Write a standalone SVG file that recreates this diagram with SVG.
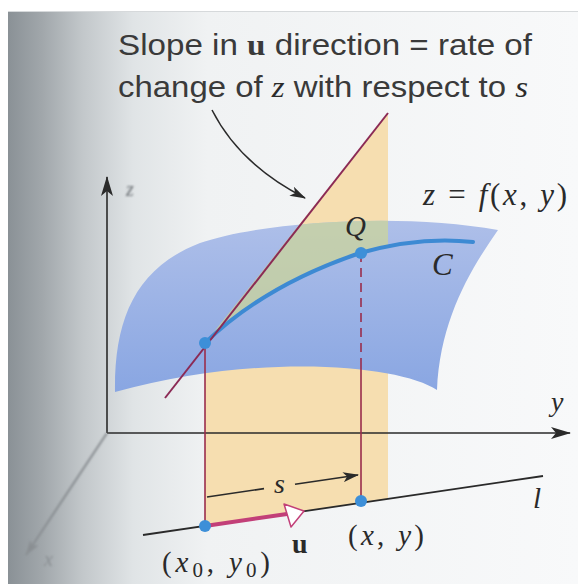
<svg xmlns="http://www.w3.org/2000/svg" width="578" height="584" viewBox="0 0 578 584">
<style>
.sans{font-family:"Liberation Sans",Arial,sans-serif;fill:#3a3a3a}
.math{font-family:"Liberation Serif","Times New Roman",serif;font-style:italic;fill:#2a2a2a}
.up{font-style:normal}
.bold{font-family:"Liberation Serif","Times New Roman",serif;font-weight:bold;font-style:normal}
.axis{stroke:#2a2a2a;stroke-width:1.6;fill:none}
.red{stroke:#9a2d4c;stroke-width:1.6;fill:none}
.dot{fill:#3d8fd8}
</style>
<defs>
<linearGradient id="shadow" x1="0" y1="0" x2="1" y2="0">
<stop offset="0" stop-color="#8a9196"/>
<stop offset="0.06" stop-color="#a1a7ab"/>
<stop offset="0.13" stop-color="#c2c7ca"/>
<stop offset="0.22" stop-color="#e0e4e6"/>
<stop offset="0.35" stop-color="#f0f2f3"/>
<stop offset="1" stop-color="#f8f9fa"/>
</linearGradient>
<linearGradient id="surf" x1="0" y1="0" x2="0" y2="1">
<stop offset="0" stop-color="#aebfe9"/>
<stop offset="1" stop-color="#89a6e2"/>
</linearGradient>
<clipPath id="surfClip">
<path d="M115,392 C114,320 135,268 200,243 C260,222 400,212 498,230 C470,270 440,320 437,390 C400,365 260,352 115,392 Z"/>
</clipPath>
<filter id="blur" x="-20%" y="-20%" width="140%" height="140%"><feGaussianBlur stdDeviation="1.3"/></filter>
<marker id="axArrow" markerUnits="userSpaceOnUse" viewBox="0 0 20 12" markerWidth="20" markerHeight="12" refX="19" refY="6" orient="auto">
<path d="M0,0 L20,6 L0,12 L5,6 Z" fill="#2a2a2a"/>
</marker>
<marker id="smArrow" markerUnits="userSpaceOnUse" viewBox="0 0 16 10" markerWidth="16" markerHeight="10" refX="15" refY="5" orient="auto">
<path d="M0,0 L16,5 L0,10 L4,5 Z" fill="#2a2a2a"/>
</marker>
<marker id="grArrow" markerUnits="userSpaceOnUse" viewBox="0 0 16 10" markerWidth="16" markerHeight="10" refX="15" refY="5" orient="auto">
<path d="M0,0 L16,5 L0,10 L4,5 Z" fill="#8a8f93"/>
</marker>
</defs>

<g id="page">
<rect x="0" y="0" width="578" height="584" fill="#ffffff"/>
<rect x="8" y="11" width="570" height="573" fill="url(#shadow)"/>
<line x1="8" y1="11.5" x2="578" y2="11.5" stroke="#d6d9db" stroke-width="1"/>
</g>

<g id="title">
<text class="sans" x="118" y="55" font-size="30" textLength="414" lengthAdjust="spacingAndGlyphs">Slope in <tspan class="bold">u</tspan> direction = rate of</text>
<text class="sans" x="118" y="97" font-size="30" textLength="410" lengthAdjust="spacingAndGlyphs">change of <tspan class="math">z</tspan> with respect to <tspan class="math">s</tspan></text>
</g>

<g id="plane">
<path d="M388,113 L205,343 L205,526 L388,499 Z" fill="#f6deb0"/>
</g>

<g id="surface">
<path d="M115,392 C114,320 135,268 200,243 C260,222 400,212 498,230 C470,270 440,320 437,390 C400,365 260,352 115,392 Z" fill="url(#surf)"/>
<path clip-path="url(#surfClip)" d="M205,343 L388,113 L388,246 L360,253 Q265,285 205,343 Z" fill="#cdd597" opacity="0.72"/>
</g>

<g id="axes">
<line class="axis" x1="107" y1="433" x2="107" y2="177" marker-end="url(#axArrow)"/>
<line class="axis" x1="107" y1="433" x2="570" y2="433" marker-end="url(#axArrow)"/>
<g filter="url(#blur)">
<line x1="107" y1="433" x2="26" y2="555" stroke="#8a8f93" stroke-width="2.2" marker-end="url(#grArrow)"/>
<text class="math" x="44" y="566" font-size="20" style="fill:#8a8f93">x</text>
</g>
<g filter="url(#blur)"><text class="math" x="126" y="196" font-size="20" style="fill:#6a6f73">z</text></g>
<text class="math" x="551" y="411" font-size="28">y</text>
</g>

<g id="curveC">
<path d="M205,343 Q265,285 360,253 Q420,236 473,242" fill="none" stroke="#3d8ad3" stroke-width="4" stroke-linecap="round"/>
</g>

<g id="connectors">
<line x1="388" y1="113" x2="165" y2="398" stroke="#8b2a55" stroke-width="2"/>
<line class="red" x1="205" y1="343" x2="205" y2="526"/>
<line class="red" x1="361" y1="253" x2="361" y2="366" stroke-dasharray="9,6"/>
<line class="red" x1="361" y1="366" x2="361" y2="501"/>
<line x1="143" y1="535" x2="543" y2="476" stroke="#2a2a2a" stroke-width="1.8"/>
<line x1="205" y1="526" x2="287" y2="514" stroke="#c23f78" stroke-width="4"/>
<path d="M304,511 L284,504 L291,527 Z" fill="#ffffff" stroke="#c23f78" stroke-width="1.5" stroke-linejoin="round"/>
<line x1="207" y1="497" x2="264" y2="488.6" stroke="#2a2a2a" stroke-width="1.6"/>
<line x1="295" y1="484.3" x2="358" y2="475" stroke="#2a2a2a" stroke-width="1.6" marker-end="url(#smArrow)"/>
<path d="M212,110 Q240,165 305,198" fill="none" stroke="#2a2a2a" stroke-width="1.5" marker-end="url(#smArrow)"/>
</g>

<g id="dots">
<circle class="dot" cx="205" cy="343" r="6"/>
<circle class="dot" cx="361" cy="253" r="6"/>
<circle class="dot" cx="205" cy="526" r="6"/>
<circle class="dot" cx="361" cy="501" r="6"/>
</g>

<g id="labels">
<text class="math" x="345" y="236" font-size="29">Q</text>
<text class="math" x="432" y="275" font-size="31">C</text>
<text class="math" x="423" y="205" font-size="31" textLength="144" lengthAdjust="spacing">z <tspan class="up">=</tspan> f<tspan class="up">(</tspan>x<tspan class="up">, </tspan>y<tspan class="up">)</tspan></text>
<text class="math" x="274" y="493" font-size="28">s</text>
<text class="math" x="533" y="508" font-size="29">l</text>
<text class="math" x="162" y="572" font-size="29" textLength="108" lengthAdjust="spacing"><tspan class="up">(</tspan>x<tspan class="up" font-size="21" dy="5">0</tspan><tspan class="up" dy="-5">, </tspan>y<tspan class="up" font-size="21" dy="5">0</tspan><tspan class="up" dy="-5">)</tspan></text>
<text class="bold" x="292" y="553" font-size="28" fill="#2a2a2a">u</text>
<text class="math" x="348" y="545" font-size="29" textLength="76" lengthAdjust="spacing"><tspan class="up">(</tspan>x<tspan class="up">, </tspan>y<tspan class="up">)</tspan></text>
</g>
</svg>
